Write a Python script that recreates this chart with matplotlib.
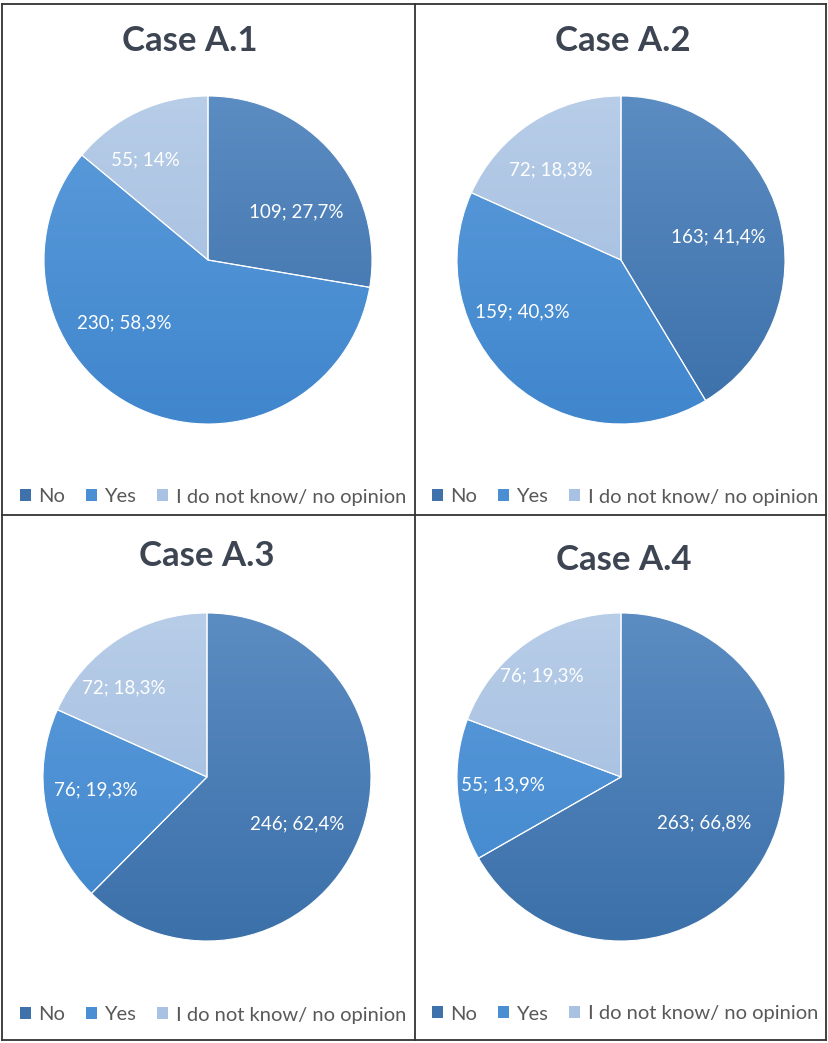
import numpy as np
import matplotlib
matplotlib.use("Agg")
import matplotlib.pyplot as plt
from matplotlib.patches import Patch, Wedge
from matplotlib.colors import LinearSegmentedColormap

# ---- data -------------------------------------------------------------
titles = ["Case A.1", "Case A.2", "Case A.3", "Case A.4"]
categories = ["No", "Yes", "I do not know/ no opinion"]
counts_a1 = [109, 230, 55]
counts_a2 = [163, 159, 72]
counts_a3 = [246, 76, 72]
counts_a4 = [263, 55, 76]
pct_a1 = [27.7, 58.3, 14]
pct_a2 = [41.4, 40.3, 18.3]
pct_a3 = [62.4, 19.3, 18.3]
pct_a4 = [66.8, 13.9, 19.3]

all_counts = [counts_a1, counts_a2, counts_a3, counts_a4]
all_pcts = [pct_a1, pct_a2, pct_a3, pct_a4]

# ---- styling ----------------------------------------------------------
W, H = 829, 1043
FONT = ["Lato", "DejaVu Sans"]
plt.rcParams["font.family"] = FONT

# (top, bottom) shades for each slice gradient
slice_shades = [("#5b8cc2", "#3c70a9"),
                ("#5c9cdb", "#4086cd"),
                ("#b7cde8", "#9fb9dd")]
legend_colors = ["#3f72ab", "#4a8ed4", "#a9c2e3"]

# pie centres / radius in pixels
centres = [(208, 260), (621, 260), (207, 777), (621, 777)]
radius = 164
title_pos = [(190, 41), (623, 41), (207, 556), (624, 560)]
legend_pos = [(213, 497), (625, 497), (213, 1015), (625, 1014)]

# label anchors as (fraction of radius, angle in degrees)
label_polar = [
    [(0.61, 28.6), (0.64, 216.8), (0.72, 122.0)],
    [(0.61, 13.3), (0.68, 207.7), (0.70, 128.0)],
    [(0.62, -27.6), (0.68, 186.7), (0.74, 133.0)],
    [(0.58, -28.5), (0.72, 184.0), (0.78, 128.0)],
]

fig = plt.figure(figsize=(W / 100, H / 100), dpi=100)
fig.patch.set_facecolor("white")

grad = np.linspace(1, 0, 256).reshape(-1, 1)

for k in range(4):
    cx, cy = centres[k]
    ax = fig.add_axes([(cx - radius) / W, 1 - (cy + radius) / H,
                       2 * radius / W, 2 * radius / H])
    wedges, _ = ax.pie(all_counts[k], startangle=90, counterclock=False,
                       colors=[s[1] for s in slice_shades],
                       wedgeprops=dict(edgecolor="white", linewidth=0.8))
    for w, (top, bot) in zip(wedges, slice_shades):
        cmap = LinearSegmentedColormap.from_list("g", [bot, top])
        im = ax.imshow(grad, cmap=cmap, extent=(-1, 1, -1, 1),
                       aspect="auto", zorder=w.get_zorder() + 0.1,
                       interpolation="bilinear", vmin=0, vmax=1)
        im.set_clip_path(w)
        ax.add_patch(Wedge(w.center, w.r, w.theta1, w.theta2,
                           facecolor="none", edgecolor="white",
                           linewidth=0.8, zorder=w.get_zorder() + 0.2))
    for j, (n, p) in enumerate(zip(all_counts[k], all_pcts[k])):
        fr, ang = label_polar[k][j]
        x = fr * np.cos(np.radians(ang))
        y = fr * np.sin(np.radians(ang))
        txt = f"{n}; {p:g}%".replace(".", ",")
        ax.text(x, y, txt, ha="center", va="center", color="white",
                fontsize=13.5, zorder=10)
    ax.set_xlim(-1, 1)
    ax.set_ylim(-1, 1)
    ax.set_aspect("equal")
    ax.axis("off")

    tx, ty = title_pos[k]
    fig.text(tx / W, 1 - ty / H, titles[k], ha="center", va="center",
             fontsize=25, fontweight="bold", color="#3d4452")

    lx, ly = legend_pos[k]
    handles = [Patch(facecolor=c, edgecolor="none") for c in legend_colors]
    fig.legend(handles, categories, loc="center", ncol=3,
               bbox_to_anchor=(lx / W, 1 - ly / H), frameon=False,
               fontsize=14.5, labelcolor="#595959", handlelength=0.55,
               handleheight=0.55, handletextpad=0.35, columnspacing=1.05,
               borderpad=0, borderaxespad=0)

# panel borders
line_kw = dict(color="#333333", linewidth=1.3, transform=fig.transFigure)
x0, x1, xm = 2 / W, 826 / W, 415 / W
y0, y1, ym = 1 - 1040 / H, 1 - 4 / H, 1 - 515 / H
for xs, ys in [((x0, x1), (y0, y0)), ((x0, x1), (y1, y1)),
               ((x0, x0), (y0, y1)), ((x1, x1), (y0, y1)),
               ((xm, xm), (y0, y1)), ((x0, x1), (ym, ym))]:
    fig.add_artist(plt.Line2D(xs, ys, **line_kw))

fig.savefig("out.png", dpi=100)
